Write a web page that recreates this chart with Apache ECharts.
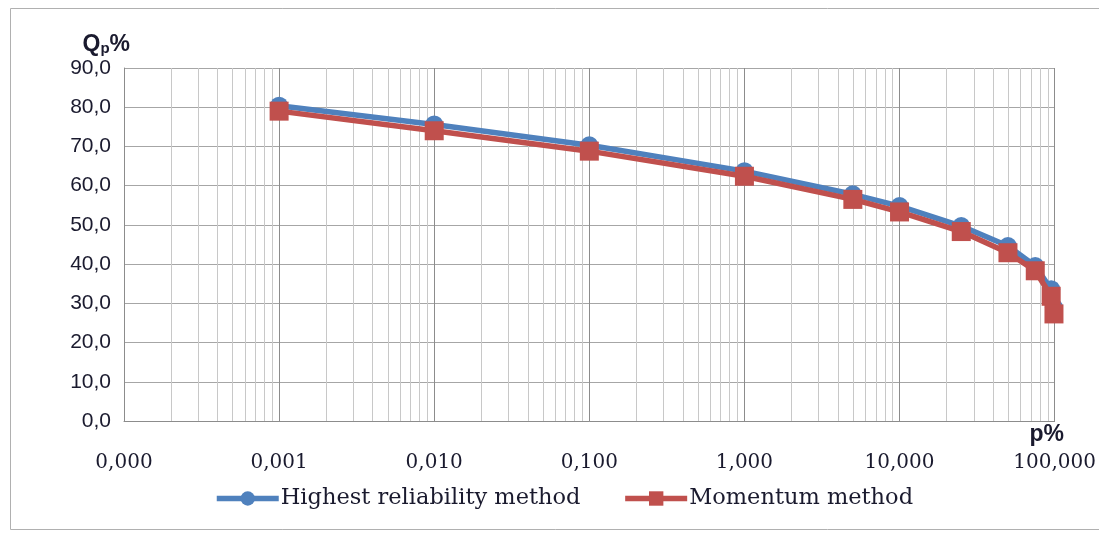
<!DOCTYPE html>
<html>
<head>
<meta charset="utf-8">
<script src="https://cdn.jsdelivr.net/npm/echarts@6/dist/echarts.min.js"></script>
<style>
  html, body { margin: 0; padding: 0; background: #fff; overflow: hidden; }
  #chart { width: 1099px; height: 534px; }
</style>
</head>
<body>
<div id="chart"></div>
<script>
// probability p% (x) and discharge Qp% (y)
var pValues = [0.001, 0.01, 0.1, 1, 5, 10, 25, 50, 75, 95, 99];
var highestReliability = [80.4, 75.6, 70.3, 63.7, 57.8, 54.8, 49.7, 44.6, 39.5, 33.6, 29.0];
var momentum = [79.0, 74.0, 68.8, 62.4, 56.5, 53.3, 48.3, 42.9, 38.3, 31.8, 27.3];
var seriesNames = ['Highest reliability method', 'Momentum method'];
var decades = [0.0001, 0.001, 0.01, 0.1, 1, 10];

// minor grid lines of the log axis (2..9 in each decade)
var minorLines = [];
decades.forEach(function (d) {
    for (var k = 2; k <= 9; k++) minorLines.push([d * k]);
});

function pairs(xs, ys) {
    return xs.map(function (x, i) { return [x, ys[i]]; });
}

var chart = echarts.init(document.getElementById('chart'));
var option = {
    animation: false,
    color: ['#4F81BD', '#C0504D'],
    graphic: [{
        type: 'rect',
        shape: { x: 10.5, y: 8.5, width: 1200, height: 521 },
        style: { fill: 'none', stroke: '#b0b0b0', lineWidth: 1 },
        silent: true
    }],
    grid: { left: 124, top: 68, right: 37, bottom: 113 },
    legend: {
        bottom: 19,
        left: 209,
        itemWidth: 62,
        itemHeight: 18,
        itemGap: 42,
        lineStyle: { width: 5.5 },
        textStyle: { fontFamily: 'DejaVu Serif', fontSize: 22.5, color: '#1a1a2e', padding: [0, 0, 0, -3] },
        data: seriesNames
    },
    xAxis: {
        type: 'log',
        logBase: 10,
        min: 0.0001,
        max: 100,
        splitNumber: 6,
        name: 'p%',
        nameLocation: 'end',
        nameGap: -8,
        nameTextStyle: {
            fontFamily: 'Liberation Sans', fontWeight: 'bold', fontSize: 23, color: '#1a1a2e',
            align: 'center', verticalAlign: 'top', padding: [2, 0, 0, 0]
        },
        axisLine: { lineStyle: { color: '#8c8c8c', width: 1 } },
        axisTick: { show: false },
        axisLabel: {
            margin: 32,
            fontFamily: 'DejaVu Serif', fontSize: 20, color: '#1a1a2e',
            formatter: function (v) { return v.toFixed(3).replace('.', ','); }
        },
        splitLine: { show: true, lineStyle: { color: '#8c8c8c', width: 1 } }
    },
    yAxis: {
        type: 'value',
        min: 0,
        max: 90,
        interval: 10,
        name: '{q|Q}{s|p}{q|%}',
        nameLocation: 'end',
        nameGap: 12,
        nameTextStyle: {
            align: 'right',
            padding: [0, -6, 0, 0],
            rich: {
                q: { fontFamily: 'Liberation Sans', fontWeight: 'bold', fontSize: 23, color: '#1a1a2e' },
                s: { fontFamily: 'Liberation Sans', fontWeight: 'bold', fontSize: 15, color: '#1a1a2e', padding: [8, 0, 0, 0] }
            }
        },
        axisLine: { show: true, lineStyle: { color: '#8c8c8c', width: 1 } },
        axisTick: { show: false },
        axisLabel: {
            margin: 13,
            fontFamily: 'Liberation Sans', fontSize: 21, color: '#1a1a2e',
            formatter: function (v) { return v.toFixed(1).replace('.', ','); }
        },
        splitLine: { show: true, lineStyle: { color: '#a6a6a6', width: 1 } }
    },
    series: [{
        name: 'minor',
        type: 'custom',
        silent: true,
        z: 1,
        data: minorLines,
        renderItem: function (params, api) {
            var x = api.value(0);
            var top = api.coord([x, 90]);
            var bottom = api.coord([x, 0]);
            var px = Math.round(top[0]) + 0.5;
            return {
                type: 'line',
                shape: { x1: px, y1: top[1], x2: px, y2: bottom[1] },
                style: { stroke: '#c8c8c8', lineWidth: 1 }
            };
        }
    }, {
        name: seriesNames[0],
        type: 'line',
        z: 3,
        symbol: 'circle',
        symbolSize: 18,
        lineStyle: { width: 5.5, color: '#4F81BD' },
        itemStyle: { color: '#4F81BD' },
        data: pairs(pValues, highestReliability)
    }, {
        name: seriesNames[1],
        type: 'line',
        z: 4,
        symbol: 'rect',
        symbolSize: 19,
        lineStyle: { width: 5.5, color: '#C0504D' },
        itemStyle: { color: '#C0504D' },
        data: pairs(pValues, momentum)
    }]
};
chart.setOption(option);
window.onresize = function () {
    chart.resize();
};
</script>
</body>
</html>
